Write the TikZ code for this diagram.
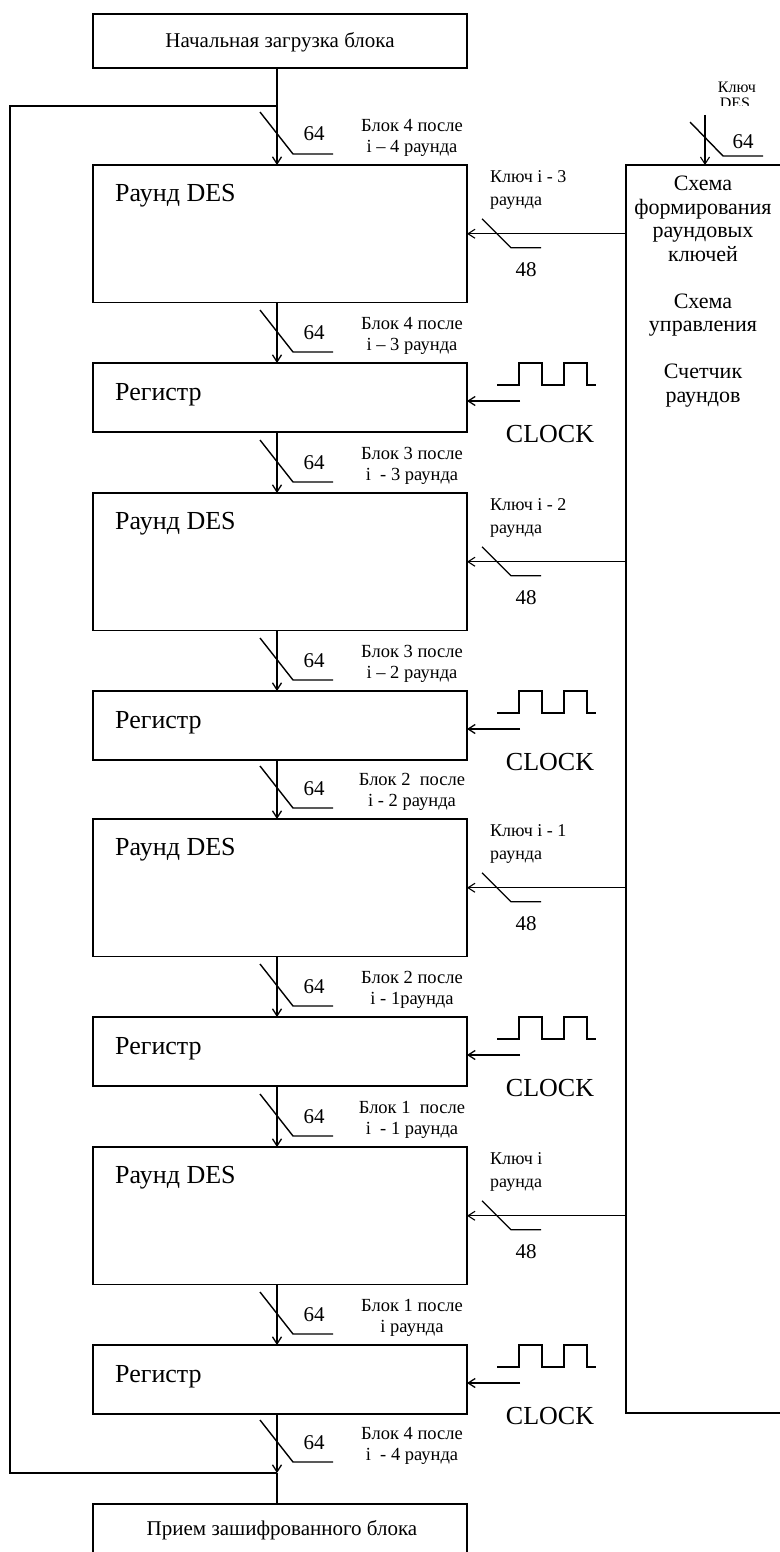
\documentclass[tikz,border=0pt]{standalone}
\usepackage{fontspec}
\setmainfont{Liberation Serif}
\usetikzlibrary{arrows.meta}
\newcommand{\myfs}[2]{\fontsize{#1}{#2}\selectfont}
\newcommand{\busmark}[4]{%
  \begin{scope}[shift={(#1)}]
    \draw[slash] (-17,-53) -- (16,-11) -- (56,-11);
    \node[num] (#2n) at (37,-24) {64};
    \node[lbl] (#2a) at (135,-33.5) {#3};
    \node[lbl] (#2b) at (135,-12.5) {#4};
  \end{scope}}
\begin{document}
\begin{tikzpicture}[x=1pt,y=-1pt,
  box/.style={draw,line width=1.6pt,minimum width=374pt,inner sep=0pt,outer sep=0pt},
  wire/.style={line width=1.3pt},
  flow/.style={wire,-{Straight Barb[length=7pt,width=9pt]}},
  kwire/.style={line width=1.1pt,-{Straight Barb[length=7pt,width=9pt]}},
  slash/.style={line width=1.4pt},
  wave/.style={line width=1.5pt},
  lbl/.style={inner sep=0pt,anchor=base,font=\myfs{18.5}{20}},
  klbl/.style={inner sep=0pt,anchor=base west,font=\myfs{18}{20}},
  num/.style={inner sep=0pt,anchor=base,font=\myfs{21}{24}},
  big/.style={inner sep=0pt,anchor=base west,font=\myfs{26}{30}},
  clk/.style={inner sep=0pt,anchor=base,font=\myfs{26}{30}},
  rtxt/.style={inner sep=0pt,anchor=base,font=\myfs{22}{24}},
  btxt/.style={inner sep=0pt,anchor=base,font=\myfs{21}{24}},
  ktxt/.style={inner sep=0pt,anchor=base,font=\myfs{16}{18}}
]
\useasboundingbox (0,0) rectangle (779,1552);
\coordinate (col) at (277,0);
\coordinate (fl) at (10,0);
\coordinate (jt) at (277,106);
\coordinate (jb) at (277,1473);

% top and bottom boxes
\node[box,minimum height=54pt] (top) at (280,41) {};
\node[btxt] (toptxt) at (280,48) {Начальная загрузка блока};
\node[box,minimum height=54pt] (bot) at (280,1531) {};
\node[btxt] (bottxt) at (282,1535) {Прием зашифрованного блока};

% key schedule box
\node[draw,line width=1.6pt,minimum width=180pt,minimum height=1248pt,anchor=north west,inner sep=0pt,outer sep=0pt] (ks) at (626,165) {};
\node[rtxt] (r1) at (703,190.5) {Схема};
\node[rtxt] (r2) at (703,214) {формирования};
\node[rtxt] (r3) at (703,237.5) {раундовых};
\node[rtxt] (r4) at (703,261) {ключей};
\node[rtxt] (r5) at (703,308) {Схема};
\node[rtxt] (r6) at (703,331.5) {управления};
\node[rtxt] (r7) at (703,378.5) {Счетчик};
\node[rtxt] (r8) at (703,402) {раундов};

% key DES input
\begin{scope}
  \clip (650,60) rectangle (779,106);
  \node[ktxt] (kd1) at (737,93) {Ключ};
  \node[ktxt] (kd2) at (735,109) {DES};
\end{scope}
\coordinate (kin) at (705,115);
\draw[kwire] (kin) -- (kin |- ks.north);
\draw[slash] (690,122) -- (723,156) -- (763,156);
\node[num] (kdn) at (743,149) {64};

% round and register boxes
\foreach \k/\T in {1/165,2/493,3/819,4/1147}{
  \node[box,minimum height=137.5pt] (des\k) at (280,\T+68.75) {};
  \node[big] (dest\k) at (115,\T+36) {Раунд DES};
  \node[box,minimum height=69pt] (reg\k) at (280,\T+232.5) {};
  \node[big] (regt\k) at (115,\T+235) {Регистр};
}

% round keys
\foreach \k/\key in {1/{Ключ i - 3},2/{Ключ i - 2},3/{Ключ i - 1},4/{Ключ i}}{
  \draw[kwire] (des\k.east -| ks.west) -- (des\k.east);
  \begin{scope}[shift={(des\k.east)}]
    \draw[slash] (15,-15) -- (44,14) -- (74,14);
    \node[num] (kn\k) at (59,43) {48};
    \node[klbl] (kla\k) at (23,-51.5) {\key};
    \node[klbl] (klb\k) at (23,-28.5) {раунда};
  \end{scope}
}

% clocks
\foreach \k in {1,2,3,4}{
  \begin{scope}[shift={(reg\k.north east)}]
    \draw[wave] (30,22) -- (52,22) -- (52,0) -- (75,0) -- (75,22) -- (97,22) -- (97,0) -- (120,0) -- (120,22) -- (129,22);
    \coordinate (clk\k) at (53,38);
    \node[clk] (clkt\k) at (83,79.5) {CLOCK};
  \end{scope}
  \draw[flow] (clk\k) -- (clk\k -| reg\k.east);
}

% data path
\draw[flow] (top.south -| col) -- (des1.north -| col);
\draw[flow] (des1.south -| col) -- (reg1.north -| col);
\draw[flow] (reg1.south -| col) -- (des2.north -| col);
\draw[flow] (des2.south -| col) -- (reg2.north -| col);
\draw[flow] (reg2.south -| col) -- (des3.north -| col);
\draw[flow] (des3.south -| col) -- (reg3.north -| col);
\draw[flow] (reg3.south -| col) -- (des4.north -| col);
\draw[flow] (des4.south -| col) -- (reg4.north -| col);
\draw[flow] (reg4.south -| col) -- (jb);
\draw[wire] (jb) -- (bot.north -| col);
\draw[wire] (jb) -- (jb -| fl) -- (jt -| fl) -- (jt);

% bus width marks
\busmark{des1.north -| col}{b1}{Блок 4 после}{i – 4 раунда}
\busmark{reg1.north -| col}{b2}{Блок 4 после}{i – 3 раунда}
\busmark{des2.north -| col}{b3}{Блок 3 после}{i~ - 3 раунда}
\busmark{reg2.north -| col}{b4}{Блок 3 после}{i – 2 раунда}
\busmark{des3.north -| col}{b5}{Блок 2~ после}{i - 2 раунда}
\busmark{reg3.north -| col}{b6}{Блок 2 после}{i - 1раунда}
\busmark{des4.north -| col}{b7}{Блок 1~ после}{i~ - 1 раунда}
\busmark{reg4.north -| col}{b8}{Блок 1 после}{i раунда}
\busmark{jb}{b9}{Блок 4 после}{i~ - 4 раунда}
\end{tikzpicture}
\end{document}
